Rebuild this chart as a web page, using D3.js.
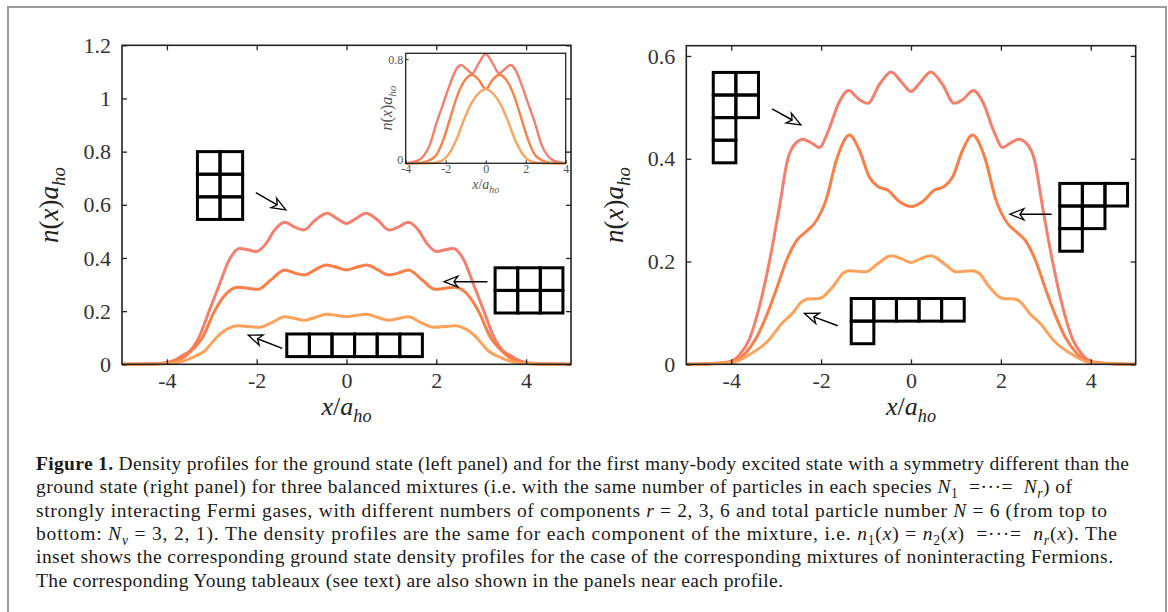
<!DOCTYPE html>
<html>
<head>
<meta charset="utf-8">
<script src="https://cdnjs.cloudflare.com/ajax/libs/d3/7.8.5/d3.min.js"></script>
<style>
body { margin: 0; background: #fff; }
svg text { font-family: "Liberation Serif", "Times New Roman", serif; }
</style>
</head>
<body>
<div id="chart"></div>
<script>
// density profiles: [x/a_ho, n(x) a_ho]
var groundR2 = [[-5,0],[-4.5,0.001],[-4.2,0.003],[-4,0.007],[-3.8,0.018],[-3.64,0.035],[-3.49,0.05],[-3.29,0.1],[-3.06,0.2],[-2.83,0.3],[-2.62,0.39],[-2.38,0.436],[-2.2,0.431],[-2.01,0.424],[-1.8,0.452],[-1.6,0.505],[-1.38,0.534],[-1.15,0.516],[-0.95,0.505],[-0.7,0.542],[-0.43,0.568],[-0.2,0.547],[0,0.53],
  [0.2,0.547],[0.43,0.568],[0.7,0.542],[0.95,0.505],[1.15,0.516],[1.38,0.534],[1.6,0.505],[1.8,0.452],[2.01,0.424],[2.2,0.431],[2.38,0.436],[2.62,0.39],[2.83,0.3],[3.06,0.2],[3.29,0.1],[3.49,0.05],[3.64,0.035],[3.8,0.018],[4,0.007],[4.2,0.003],[4.5,0.001],[5,0]];
var groundR3 = [[-5,0],[-4.5,0.001],[-4.2,0.002],[-4,0.005],[-3.8,0.013],[-3.64,0.025],[-3.4,0.06],[-3.21,0.1],[-2.94,0.2],[-2.7,0.262],[-2.42,0.29],[-2.2,0.286],[-1.97,0.282],[-1.7,0.315],[-1.38,0.355],[-1.15,0.343],[-0.94,0.336],[-0.7,0.355],[-0.45,0.374],[-0.2,0.364],[0,0.355],
  [0.2,0.364],[0.45,0.374],[0.7,0.355],[0.94,0.336],[1.15,0.343],[1.38,0.355],[1.7,0.315],[1.97,0.282],[2.2,0.286],[2.42,0.29],[2.7,0.262],[2.94,0.2],[3.21,0.1],[3.4,0.06],[3.64,0.025],[3.8,0.013],[4,0.005],[4.2,0.002],[4.5,0.001],[5,0]];
var groundR6 = [[-5,0],[-4.5,0.0005],[-4,0.003],[-3.64,0.012],[-3.4,0.028],[-3.16,0.05],[-2.9,0.1],[-2.65,0.133],[-2.42,0.145],[-2.2,0.142],[-1.94,0.139],[-1.65,0.158],[-1.38,0.179],[-1.15,0.172],[-0.94,0.166],[-0.7,0.176],[-0.45,0.188],[-0.2,0.184],[0,0.179],
  [0.2,0.184],[0.45,0.188],[0.7,0.176],[0.94,0.166],[1.15,0.172],[1.38,0.179],[1.65,0.158],[1.94,0.139],[2.2,0.142],[2.42,0.145],[2.65,0.133],[2.9,0.1],[3.16,0.05],[3.4,0.028],[3.64,0.012],[4,0.003],[4.5,0.0005],[5,0]];

var excitedR2 = [[-5,0],[-4.5,0.001],[-4.2,0.003],[-4,0.006],[-3.8,0.02],[-3.6,0.048],[-3.41,0.1],[-3.15,0.2],[-2.94,0.3],[-2.74,0.4],[-2.55,0.432],[-2.41,0.438],[-2.2,0.43],[-2.04,0.422],[-1.85,0.452],[-1.6,0.51],[-1.39,0.533],[-1.15,0.515],[-0.96,0.508],[-0.7,0.545],[-0.44,0.569],[-0.2,0.548],[0,0.531],
  [0.2,0.548],[0.44,0.569],[0.7,0.545],[0.96,0.508],[1.15,0.515],[1.39,0.533],[1.6,0.51],[1.85,0.452],[2.04,0.422],[2.2,0.43],[2.41,0.438],[2.55,0.432],[2.74,0.4],[2.94,0.3],[3.15,0.2],[3.41,0.1],[3.6,0.048],[3.8,0.02],[4,0.006],[4.2,0.003],[4.5,0.001],[5,0]];
var excitedR3 = [[-5,0],[-4.5,0.001],[-4,0.004],[-3.7,0.02],[-3.45,0.05],[-3.19,0.1],[-2.98,0.15],[-2.78,0.2],[-2.55,0.24],[-2.34,0.258],[-2.15,0.274],[-1.89,0.32],[-1.65,0.4],[-1.37,0.446],[-1.15,0.417],[-0.93,0.365],[-0.74,0.346],[-0.52,0.339],[-0.26,0.317],[0,0.307],
  [0.26,0.317],[0.52,0.339],[0.74,0.346],[0.93,0.365],[1.15,0.417],[1.37,0.446],[1.65,0.4],[1.89,0.32],[2.15,0.274],[2.34,0.258],[2.55,0.24],[2.78,0.2],[2.98,0.15],[3.19,0.1],[3.45,0.05],[3.7,0.02],[4,0.004],[4.5,0.001],[5,0]];
var excitedR6 = [[-5,0],[-4.5,0.001],[-4,0.003],[-3.61,0.018],[-3.2,0.044],[-2.87,0.08],[-2.63,0.1],[-2.45,0.12],[-2.3,0.127],[-2.04,0.128],[-1.74,0.151],[-1.5,0.178],[-1.37,0.182],[-1,0.18],[-0.75,0.195],[-0.44,0.211],[-0.2,0.205],[0,0.198],
  [0.2,0.205],[0.44,0.211],[0.75,0.195],[1,0.18],[1.37,0.182],[1.5,0.178],[1.74,0.151],[2.04,0.128],[2.3,0.127],[2.45,0.12],[2.63,0.1],[2.87,0.08],[3.2,0.044],[3.61,0.018],[4,0.003],[4.5,0.001],[5,0]];

// inset: noninteracting ground state
var freeR2 = [[-4,0],[-3.81,0.005],[-3.4,0.02],[-3.14,0.05],[-2.8,0.14],[-2.46,0.31],[-2.12,0.46],[-1.78,0.61],[-1.44,0.73],[-1.24,0.755],[-0.93,0.72],[-0.68,0.69],[-0.34,0.77],[0,0.84],
  [0.34,0.77],[0.68,0.69],[0.93,0.72],[1.24,0.755],[1.44,0.73],[1.78,0.61],[2.12,0.46],[2.46,0.31],[2.8,0.14],[3.14,0.05],[3.4,0.02],[3.81,0.005],[4,0]];
var freeR3 = [[-4,0],[-3.4,0.002],[-3.14,0.006],[-2.8,0.025],[-2.46,0.065],[-2.12,0.18],[-1.78,0.345],[-1.44,0.51],[-1.1,0.625],[-0.68,0.68],[-0.34,0.64],[0,0.57],
  [0.34,0.64],[0.68,0.68],[1.1,0.625],[1.44,0.51],[1.78,0.345],[2.12,0.18],[2.46,0.065],[2.8,0.025],[3.14,0.006],[3.4,0.002],[4,0]];
var freeR6 = [[-4,0],[-2.8,0.001],[-2.46,0.006],[-1.95,0.05],[-1.44,0.19],[-1.1,0.33],[-0.68,0.47],[-0.34,0.54],[0,0.57],
  [0.34,0.54],[0.68,0.47],[1.1,0.33],[1.44,0.19],[1.95,0.05],[2.46,0.006],[2.8,0.001],[4,0]];

var xTicks = [-4, -2, 0, 2, 4];
var leftYTicks = [0, 0.2, 0.4, 0.6, 0.8, 1, 1.2];
var rightYTicks = [0, 0.2, 0.4, 0.6];
var insetXTicks = [-4, -2, 0, 2, 4];
var insetYTicks = [0, 0.8];

// Young tableaux: row lengths, top-left corner in data units
var leftTableaux = [
  {rows: [2, 2, 2], at: [-3.32, 0.80]},
  {rows: [3, 3], at: [3.31, 0.363]},
  {rows: [6], at: [-1.33, 0.114]}
];
var rightTableaux = [
  {rows: [2, 2, 1, 1], at: [-4.40, 0.568]},
  {rows: [3, 2, 1], at: [3.31, 0.352]},
  {rows: [5, 1], at: [-1.33, 0.128]}
];
var leftArrows = [[[-2.02, 0.646], [-1.35, 0.581]], [[3.14, 0.311], [2.17, 0.311]], [[-1.43, 0.060], [-2.19, 0.110]]];
var rightArrows = [[[-3.09, 0.497], [-2.45, 0.466]], [[3.13, 0.292], [2.20, 0.292]], [[-1.63, 0.075], [-2.37, 0.099]]];

var colors = ["#f47f6d", "#f97f48", "#fca25c"];

var captionLines = [
  [["b", "Figure 1."], ["", " Density profiles for the ground state (left panel) and for the first many-body excited state with a symmetry different than the"]],
  [["", "ground state (right panel) for three balanced mixtures (i.e. with the same number of particles in each species "], ["i", "N"], ["sub", "1"], ["", "  =\u00b7\u00b7\u00b7=  "], ["i", "N"], ["subi", "r"], ["", ") of"]],
  [["", "strongly interacting Fermi gases, with different numbers of components "], ["i", "r"], ["", " = 2, 3, 6 and total particle number "], ["i", "N"], ["", " = 6 (from top to"]],
  [["", "bottom: "], ["i", "N"], ["subi", "\u03bd"], ["", " = 3, 2, 1). The density profiles are the same for each component of the mixture, i.e. "], ["i", "n"], ["sub", "1"], ["", "("], ["i", "x"], ["", ") = "], ["i", "n"], ["sub", "2"], ["", "("], ["i", "x"], ["", ")  =\u00b7\u00b7\u00b7=  "], ["i", "n"], ["subi", "r"], ["", "("], ["i", "x"], ["", "). The"]],
  [["", "inset shows the corresponding ground state density profiles for the case of the corresponding mixtures of noninteracting Fermions."]],
  [["", "The corresponding Young tableaux (see text) are also shown in the panels near each profile."]]
];
var captionWidths = [1093, 1036, 1071, 1081, 1077, 747];

var svg = d3.select("#chart").append("svg")
    .attr("width", 1168)
    .attr("height", 612);

// page frame
svg.append("path")
    .attr("d", "M8,620V7H1166V620")
    .attr("fill", "none")
    .attr("stroke", "#9c9c9c")
    .attr("stroke-width", 2);

var line = function(xs, ys){
    return d3.line().x(function(d){ return xs(d[0]); }).y(function(d){ return ys(d[1]); }).curve(d3.curveMonotoneX);
};

function mathLabel(sel, parts, size){
    // parts: [style, text]; "sub" parts are smaller and lowered
    var down = false;
    parts.forEach(function(p){
        var t = sel.append("tspan").text(p[1]);
        if (p[0].indexOf("i") >= 0) t.attr("font-style", "italic");
        if (p[0] == "b") t.attr("font-weight", "bold");
        if (p[0].indexOf("sub") == 0){
            t.attr("font-size", size * 0.7);
            if (!down){ t.attr("dy", size * 0.25); down = true; }
        } else if (down){
            t.attr("dy", -size * 0.25); down = false;
        }
    });
}

function drawPanel(xs, ys, yTicks, series, tableaux, arrows, labelX){
    var g = svg.append("g");
    var x0 = xs.range()[0], x1 = xs.range()[1], y0 = ys.range()[0], y1 = ys.range()[1];

    series.forEach(function(s, i){
        g.append("path")
            .attr("d", line(xs, ys)(s))
            .attr("fill", "none")
            .attr("stroke", colors[i])
            .attr("stroke-width", 3)
            .attr("stroke-linejoin", "round");
    });

    var axes = [
        [d3.axisBottom(xs).tickValues(xTicks).tickPadding(8), y0, true],
        [d3.axisTop(xs).tickValues(xTicks).tickFormat(""), y1, false],
        [d3.axisLeft(ys).tickValues(yTicks).tickPadding(11), x0, true],
        [d3.axisRight(ys).tickValues(yTicks).tickFormat(""), x1, false]
    ];
    axes.forEach(function(a, i){
        var ax = a[0].tickSizeInner(-5).tickSizeOuter(0);
        if (a[2]) ax.tickFormat(function(d){ return String(d); });
        var ag = g.append("g")
            .attr("transform", i < 2 ? "translate(0," + a[1] + ")" : "translate(" + a[1] + ",0)")
            .call(ax);
        ag.select(".domain").remove();
        ag.selectAll("line").attr("stroke", "#222").attr("stroke-width", 1.3);
        ag.selectAll("text")
            .attr("font-family", "Liberation Serif")
            .attr("font-size", 22)
            .attr("fill", "#333");
    });

    g.append("rect")
        .attr("x", x0).attr("y", y1)
        .attr("width", x1 - x0).attr("height", y0 - y1)
        .attr("fill", "none")
        .attr("stroke", "#222")
        .attr("stroke-width", 1.6);

    var cell = 22.6;
    tableaux.forEach(function(t){
        var left = xs(t.at[0]), top = ys(t.at[1]);
        t.rows.forEach(function(n, r){
            d3.range(n).forEach(function(c){
                g.append("rect")
                    .attr("x", left + c * cell).attr("y", top + r * cell)
                    .attr("width", cell).attr("height", cell)
                    .attr("fill", "none")
                    .attr("stroke", "#000")
                    .attr("stroke-width", 3);
            });
        });
    });

    arrows.forEach(function(a){
        var sx = xs(a[0][0]), sy = ys(a[0][1]), tx = xs(a[1][0]), ty = ys(a[1][1]);
        var ang = Math.atan2(ty - sy, tx - sx);
        var len = Math.sqrt((tx - sx) * (tx - sx) + (ty - sy) * (ty - sy));
        var ag = g.append("g").attr("transform", "translate(" + tx + "," + ty + ") rotate(" + ang * 180 / Math.PI + ")");
        ag.append("line")
            .attr("x1", -len).attr("y1", 0).attr("x2", -10).attr("y2", 0)
            .attr("stroke", "#000").attr("stroke-width", 1.5);
        ag.append("path")
            .attr("d", "M0,0L-14,-5.5L-10,0L-14,5.5Z")
            .attr("fill", "#fff")
            .attr("stroke", "#000")
            .attr("stroke-width", 1.3)
            .attr("stroke-linejoin", "miter");
    });

    var xl = svg.append("text")
        .attr("x", (x0 + x1) / 2)
        .attr("y", 415)
        .attr("text-anchor", "middle")
        .attr("font-size", 26)
        .attr("fill", "#222");
    mathLabel(xl, [["i", "x"], ["", "/"], ["i", "a"], ["subi", "ho"]], 26);

    var yl = svg.append("text")
        .attr("transform", "translate(" + labelX + "," + 205 + ") rotate(-90)")
        .attr("text-anchor", "middle")
        .attr("font-size", 27)
        .attr("fill", "#222");
    mathLabel(yl, [["i", "n"], ["", "("], ["i", "x"], ["", ")"], ["i", "a"], ["subi", "ho"]], 27);
    return g;
}

var xLeft = d3.scaleLinear().domain([-5, 5]).range([122, 571]);
var yLeft = d3.scaleLinear().domain([0, 1.2]).range([364.3, 45.3]);
var xRight = d3.scaleLinear().domain([-5, 5]).range([686.3, 1135.7]);
var yRight = d3.scaleLinear().domain([0, 0.62]).range([364.3, 45.7]);

drawPanel(xLeft, yLeft, leftYTicks, [groundR2, groundR3, groundR6], leftTableaux, leftArrows, 58);
drawPanel(xRight, yRight, rightYTicks, [excitedR2, excitedR3, excitedR6], rightTableaux, rightArrows, 623);

// inset
var xIn = d3.scaleLinear().domain([-4, 4]).range([405.7, 565.7]);
var yIn = d3.scaleLinear().domain([0, 0.845]).range([163.3, 53.3]);
var inset = svg.append("g");
inset.append("rect")
    .attr("x", 405.7).attr("y", 53.3).attr("width", 160).attr("height", 110)
    .attr("fill", "#fff");
[freeR2, freeR3, freeR6].forEach(function(s, i){
    inset.append("path")
        .attr("d", line(xIn, yIn)(s))
        .attr("fill", "none")
        .attr("stroke", colors[i])
        .attr("stroke-width", 2.4);
});
var ib = inset.append("g").attr("transform", "translate(0,163.3)")
    .call(d3.axisBottom(xIn).tickValues(insetXTicks).tickSizeInner(-3).tickSizeOuter(0).tickPadding(1.5).tickFormat(function(d){ return String(d); }));
var il = inset.append("g").attr("transform", "translate(405.7,0)")
    .call(d3.axisLeft(yIn).tickValues(insetYTicks).tickSizeInner(-3).tickSizeOuter(0).tickPadding(2.5).tickFormat(function(d){ return String(d); }));
[ib, il].forEach(function(ag){
    ag.select(".domain").remove();
    ag.selectAll("line").attr("stroke", "#222");
    ag.selectAll("text").attr("font-family", "Liberation Serif").attr("font-size", 12).attr("fill", "#555");
});
// keep the "0" of the y axis clear of the "-4" below it
il.selectAll("text").filter(function(d){ return d === 0; }).attr("dy", "0.05em");
inset.append("rect")
    .attr("x", 405.7).attr("y", 53.3).attr("width", 160).attr("height", 110)
    .attr("fill", "none").attr("stroke", "#222").attr("stroke-width", 1.3);
var ixl = inset.append("text")
    .attr("x", 485.7).attr("y", 189)
    .attr("text-anchor", "middle").attr("font-size", 14).attr("fill", "#555");
mathLabel(ixl, [["i", "x"], ["", "/"], ["i", "a"], ["subi", "ho"]], 14);
var iyl = inset.append("text")
    .attr("transform", "translate(392,108) rotate(-90)")
    .attr("text-anchor", "middle").attr("font-size", 16).attr("fill", "#555");
mathLabel(iyl, [["i", "n"], ["", "("], ["i", "x"], ["", ")"], ["i", "a"], ["subi", "ho"]], 16);

// caption
captionLines.forEach(function(parts, i){
    var t = svg.append("text")
        .attr("x", 36)
        .attr("y", 470 + i * 23.3)
        .attr("font-size", 19.5)
        .attr("fill", "#1a1a1a")
        .style("white-space", "pre")
        .attr("textLength", captionWidths[i])
        .attr("lengthAdjust", "spacing");
    mathLabel(t, parts, 19.5);
});
</script>
</body>
</html>
